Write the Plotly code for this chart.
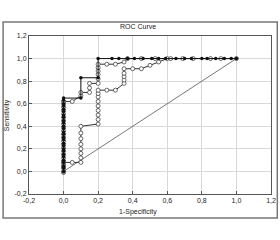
import plotly.graph_objects as go

# ---- data ----
filled_x = [0]*27 + [0.1, 0.1, 0.2, 0.2, 0.28, 0.32, 0.37, 0.41, 0.46, 0.51, 0.55, 0.59,
                     0.65, 0.70, 0.74, 0.80, 0.83, 0.88, 0.93, 0.97, 1.0]
filled_y = [0, 0.03, 0.05, 0.08, 0.10, 0.13, 0.15, 0.18, 0.20, 0.23, 0.25, 0.28, 0.30,
            0.33, 0.35, 0.38, 0.40, 0.43, 0.45, 0.48, 0.50, 0.53, 0.55, 0.58, 0.60, 0.63, 0.65,
            0.65, 0.83, 0.83, 1.0, 1.0, 1.0, 1.0, 1.0, 1.0, 1.0, 1.0, 1.0,
            1.0, 1.0, 1.0, 1.0, 1.0, 1.0, 1.0, 1.0, 1.0]

openA_x = [0]*22 + [0.05, 0.1, 0.1, 0.15, 0.15, 0.15, 0.2, 0.2, 0.2, 0.2, 0.2, 0.2,
                    0.25, 0.30, 0.35, 0.37, 0.45, 0.53, 0.62, 0.69, 0.75, 0.85, 0.91, 1.0]
openA_y = [0, 0.03, 0.06, 0.09, 0.12, 0.15, 0.18, 0.21, 0.24, 0.27, 0.30, 0.33,
           0.36, 0.39, 0.42, 0.45, 0.48, 0.51, 0.54, 0.57, 0.60, 0.62,
           0.62, 0.67, 0.70, 0.70, 0.74, 0.78, 0.78, 0.82, 0.86, 0.89, 0.92, 0.95,
           0.95, 0.95, 0.97, 1.0, 1.0, 1.0, 1.0, 1.0, 1.0, 1.0, 1.0, 1.0]

openB_x = [0, 0, 0, 0.05, 0.1, 0.1, 0.1, 0.1, 0.1, 0.1, 0.1, 0.1, 0.2, 0.2, 0.2, 0.2,
           0.2, 0.2, 0.2, 0.2, 0.2, 0.25, 0.30, 0.35, 0.35, 0.35, 0.35, 0.35,
           0.40, 0.45, 0.50, 0.55, 0.60]
openB_y = [-0.01, 0.04, 0.08, 0.08, 0.08, 0.12, 0.16, 0.20, 0.24, 0.29, 0.34, 0.40,
           0.42, 0.46, 0.50, 0.54, 0.58, 0.62, 0.66, 0.69, 0.72, 0.72, 0.72, 0.78,
           0.81, 0.84, 0.87, 0.91, 0.91, 0.91, 0.94, 0.97, 1.0]

diag_x = [0, 1]
diag_y = [0, 1]

tick_vals = [-0.2, 0.0, 0.2, 0.4, 0.6, 0.8, 1.0, 1.2]
tick_text = ["-0,2", "0,0", "0,2", "0,4", "0,6", "0,8", "1,0", "1,2"]

line_col = "#333333"
font_fam = "Arial, Liberation Sans"

fig = go.Figure()
fig.add_trace(go.Scatter(x=diag_x, y=diag_y, mode="lines",
                         line=dict(color="#777777", width=1), hoverinfo="skip"))
fig.add_trace(go.Scatter(x=openB_x, y=openB_y, mode="lines+markers",
                         line=dict(color=line_col, width=1),
                         marker=dict(symbol="circle", size=4, color="white",
                                     line=dict(color="#444444", width=0.8))))
fig.add_trace(go.Scatter(x=openA_x, y=openA_y, mode="lines+markers",
                         line=dict(color=line_col, width=1),
                         marker=dict(symbol="circle", size=4, color="white",
                                     line=dict(color="#444444", width=0.8))))
fig.add_trace(go.Scatter(x=filled_x, y=filled_y, mode="lines+markers",
                         line=dict(color="#111111", width=1),
                         marker=dict(symbol="circle", size=3.5, color="#111111")))

axis_common = dict(tickvals=tick_vals, ticktext=tick_text, showgrid=True,
                   gridcolor="#d8d8d8", gridwidth=1, zeroline=False,
                   showline=True, linecolor="#555555", linewidth=1, mirror=True,
                   ticks="inside", ticklen=3, tickcolor="#555555", automargin=False,
                   tickfont=dict(family=font_fam, size=7, color="#222222"))

fig.update_layout(
    width=280, height=240,
    margin=dict(l=29, r=9, t=36, b=46),
    paper_bgcolor="white", plot_bgcolor="white",
    showlegend=False,
    xaxis=dict(range=[-0.2, 1.2], **axis_common),
    yaxis=dict(range=[-0.2, 1.2], **axis_common),
    shapes=[dict(type="rect", xref="paper", yref="paper",
                 x0=-0.107, x1=1.026, y0=-0.152, y1=1.089,
                 line=dict(color="#777777", width=1.5), layer="below")],
    annotations=[
        dict(text="ROC Curve", xref="paper", yref="paper", x=0.45, y=1.057,
             xanchor="center", yanchor="middle",
             showarrow=False, font=dict(family=font_fam, size=7, color="#222222")),
        dict(text="1-Specificity", xref="paper", yref="paper", x=0.45, y=-0.114,
             xanchor="center", yanchor="middle",
             showarrow=False, font=dict(family=font_fam, size=7, color="#222222")),
        dict(text="Sensitivity", xref="paper", yref="paper", x=-0.09, y=0.5,
             xanchor="center", yanchor="middle",
             textangle=-90, showarrow=False,
             font=dict(family=font_fam, size=7, color="#222222")),
    ],
)

fig.write_html("out.html")
